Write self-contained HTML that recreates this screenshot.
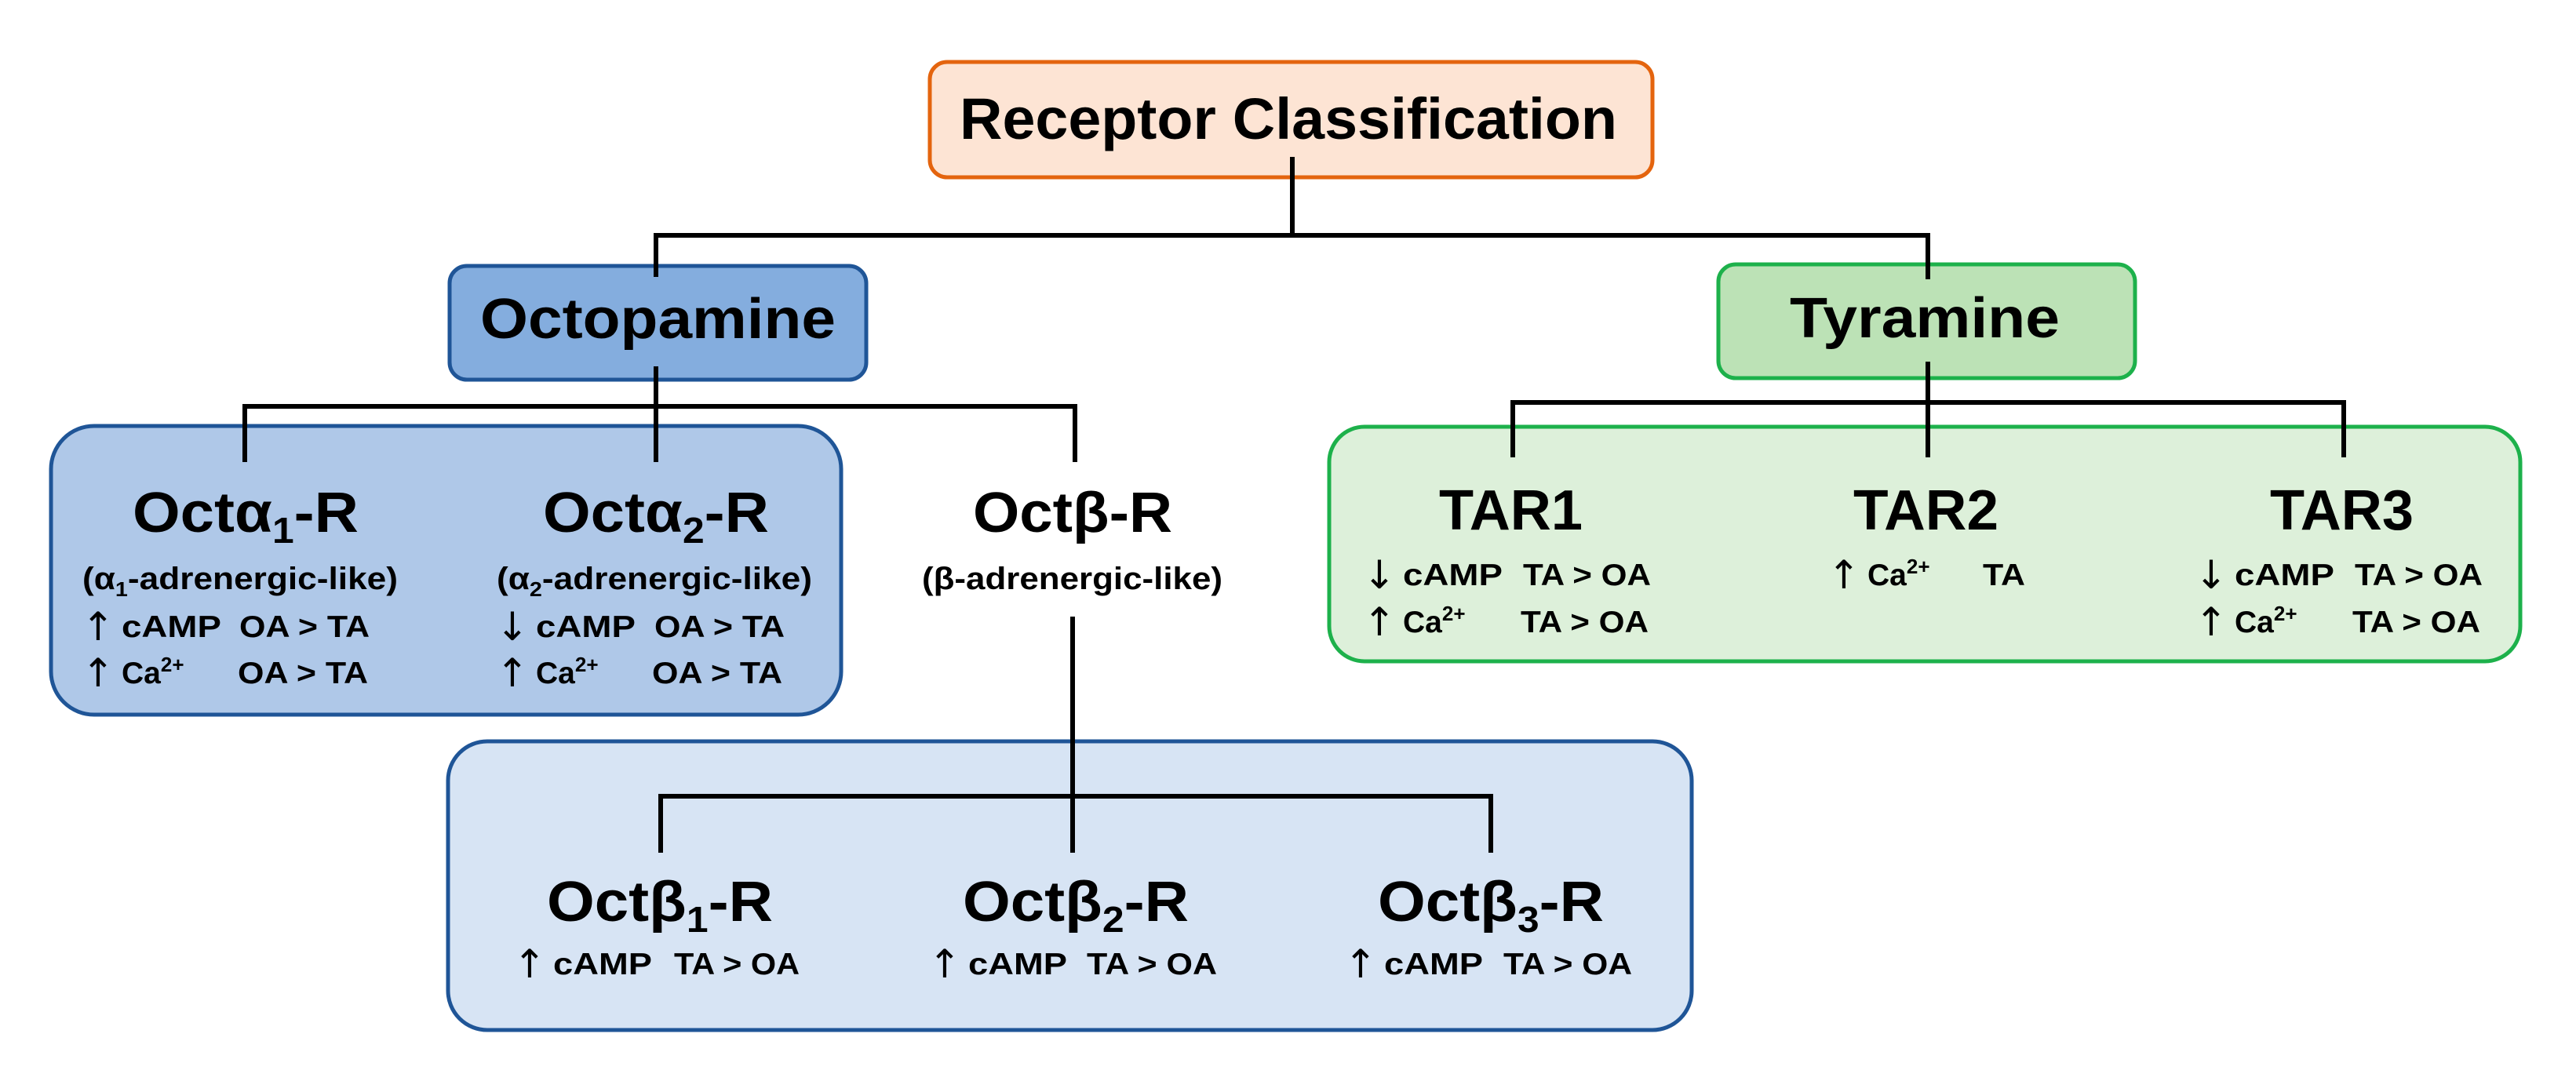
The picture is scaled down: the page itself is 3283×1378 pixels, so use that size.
<!DOCTYPE html>
<html><head><meta charset="utf-8"><style>
html,body{margin:0;padding:0;background:#fff;}
svg{display:block;}
text{font-family:"Liberation Sans","DejaVu Sans",sans-serif;font-weight:bold;fill:#000;}
text.ar{font-family:"DejaVu Sans","Liberation Sans",sans-serif;font-weight:normal;}
</style></head><body>
<svg width="3283" height="1378" viewBox="0 0 3283 1378" xmlns="http://www.w3.org/2000/svg">
<!-- boxes -->
<rect x="1185" y="79" width="921" height="147" rx="22" fill="#FDE4D4" stroke="#E4640E" stroke-width="5"/>
<rect x="573" y="339" width="531" height="145" rx="22" fill="#84ADDE" stroke="#1F5597" stroke-width="5"/>
<rect x="2190" y="337" width="531" height="145" rx="22" fill="#BCE2B6" stroke="#1DB14B" stroke-width="5"/>
<rect x="65" y="543" width="1007" height="368" rx="55" fill="#AFC8E8" stroke="#1F5597" stroke-width="5"/>
<rect x="1694" y="544" width="1518" height="299" rx="45" fill="#DDF0DA" stroke="#1DB14B" stroke-width="5"/>
<rect x="571" y="945" width="1585" height="368" rx="50" fill="#D7E4F4" stroke="#1F5597" stroke-width="5"/>
<!-- connectors -->
<g stroke="#000" stroke-width="6" fill="none">
<path d="M1647 200 V300"/>
<path d="M836 353 V300 H2457 V356"/>
<path d="M836 467 V589"/>
<path d="M312 589 V518 H1370 V589"/>
<path d="M2457 461 V583"/>
<path d="M1928 583 V513 H2987 V583"/>
<path d="M1367 786 V1087"/>
<path d="M842 1087 V1015 H1900 V1087"/>
</g>
<!-- titles -->
<text x="1223" y="177" font-size="74" textLength="838" lengthAdjust="spacingAndGlyphs">Receptor Classification</text>
<text x="612" y="431" font-size="72" textLength="453" lengthAdjust="spacingAndGlyphs">Octopamine</text>
<text x="2281" y="430" font-size="72" textLength="344" lengthAdjust="spacingAndGlyphs">Tyramine</text>

<!-- Oct alpha 1 -->
<text x="169" y="678" font-size="72" textLength="288" lengthAdjust="spacingAndGlyphs">Octα<tspan font-size="46" dy="14">1</tspan><tspan dy="-14">-R</tspan></text>
<text x="105" y="751" font-size="40" textLength="402" lengthAdjust="spacingAndGlyphs">(α<tspan font-size="26" dy="9">1</tspan><tspan dy="-9">-adrenergic-like)</tspan></text>
<text class="ar" x="104" y="816" font-size="50">↑</text>
<text x="155" y="812" font-size="39" textLength="127" lengthAdjust="spacingAndGlyphs">cAMP</text>
<text x="305" y="812" font-size="39" textLength="166" lengthAdjust="spacingAndGlyphs">OA &gt; TA</text>
<text class="ar" x="104" y="875" font-size="50">↑</text>
<text x="155" y="871" font-size="39">Ca<tspan font-size="26" dy="-15">2+</tspan></text>
<text x="303" y="871" font-size="39" textLength="166" lengthAdjust="spacingAndGlyphs">OA &gt; TA</text>

<!-- Oct alpha 2 -->
<text x="692" y="678" font-size="72" textLength="288" lengthAdjust="spacingAndGlyphs">Octα<tspan font-size="46" dy="14">2</tspan><tspan dy="-14">-R</tspan></text>
<text x="633" y="751" font-size="40" textLength="402" lengthAdjust="spacingAndGlyphs">(α<tspan font-size="26" dy="9">2</tspan><tspan dy="-9">-adrenergic-like)</tspan></text>
<text class="ar" x="632" y="816" font-size="50">↓</text>
<text x="683" y="812" font-size="39" textLength="127" lengthAdjust="spacingAndGlyphs">cAMP</text>
<text x="834" y="812" font-size="39" textLength="166" lengthAdjust="spacingAndGlyphs">OA &gt; TA</text>
<text class="ar" x="632" y="875" font-size="50">↑</text>
<text x="683" y="871" font-size="39">Ca<tspan font-size="26" dy="-15">2+</tspan></text>
<text x="831" y="871" font-size="39" textLength="166" lengthAdjust="spacingAndGlyphs">OA &gt; TA</text>

<!-- Oct beta -->
<text x="1240" y="678" font-size="72" textLength="254" lengthAdjust="spacingAndGlyphs">Octβ-R</text>
<text x="1175" y="751" font-size="40" textLength="383" lengthAdjust="spacingAndGlyphs">(β-adrenergic-like)</text>

<!-- beta subtypes -->
<text x="697" y="1174" font-size="72" textLength="288" lengthAdjust="spacingAndGlyphs">Octβ<tspan font-size="46" dy="14">1</tspan><tspan dy="-14">-R</tspan></text>
<text class="ar" x="654" y="1246" font-size="50">↑</text>
<text x="705" y="1242" font-size="39" textLength="126" lengthAdjust="spacingAndGlyphs">cAMP</text>
<text x="859" y="1242" font-size="39" textLength="160" lengthAdjust="spacingAndGlyphs">TA &gt; OA</text>

<text x="1227" y="1174" font-size="72" textLength="288" lengthAdjust="spacingAndGlyphs">Octβ<tspan font-size="46" dy="14">2</tspan><tspan dy="-14">-R</tspan></text>
<text class="ar" x="1183" y="1246" font-size="50">↑</text>
<text x="1234" y="1242" font-size="39" textLength="126" lengthAdjust="spacingAndGlyphs">cAMP</text>
<text x="1385" y="1242" font-size="39" textLength="166" lengthAdjust="spacingAndGlyphs">TA &gt; OA</text>

<text x="1756" y="1174" font-size="72" textLength="288" lengthAdjust="spacingAndGlyphs">Octβ<tspan font-size="46" dy="14">3</tspan><tspan dy="-14">-R</tspan></text>
<text class="ar" x="1713" y="1246" font-size="50">↑</text>
<text x="1764" y="1242" font-size="39" textLength="126" lengthAdjust="spacingAndGlyphs">cAMP</text>
<text x="1916" y="1242" font-size="39" textLength="164" lengthAdjust="spacingAndGlyphs">TA &gt; OA</text>

<!-- TAR -->
<text x="1834" y="675" font-size="72" textLength="183" lengthAdjust="spacingAndGlyphs">TAR1</text>
<text class="ar" x="1737" y="750" font-size="50">↓</text>
<text x="1788" y="746" font-size="39" textLength="127" lengthAdjust="spacingAndGlyphs">cAMP</text>
<text x="1941" y="746" font-size="39" textLength="163" lengthAdjust="spacingAndGlyphs">TA &gt; OA</text>
<text class="ar" x="1737" y="810" font-size="50">↑</text>
<text x="1788" y="806" font-size="39">Ca<tspan font-size="26" dy="-15">2+</tspan></text>
<text x="1938" y="806" font-size="39" textLength="163" lengthAdjust="spacingAndGlyphs">TA &gt; OA</text>

<text x="2362" y="675" font-size="72" textLength="185" lengthAdjust="spacingAndGlyphs">TAR2</text>
<text class="ar" x="2329" y="750" font-size="50">↑</text>
<text x="2380" y="746" font-size="39">Ca<tspan font-size="26" dy="-15">2+</tspan></text>
<text x="2527" y="746" font-size="39" textLength="54" lengthAdjust="spacingAndGlyphs">TA</text>

<text x="2893" y="675" font-size="72" textLength="183" lengthAdjust="spacingAndGlyphs">TAR3</text>
<text class="ar" x="2797" y="750" font-size="50">↓</text>
<text x="2848" y="746" font-size="39" textLength="127" lengthAdjust="spacingAndGlyphs">cAMP</text>
<text x="3001" y="746" font-size="39" textLength="163" lengthAdjust="spacingAndGlyphs">TA &gt; OA</text>
<text class="ar" x="2797" y="810" font-size="50">↑</text>
<text x="2848" y="806" font-size="39">Ca<tspan font-size="26" dy="-15">2+</tspan></text>
<text x="2998" y="806" font-size="39" textLength="163" lengthAdjust="spacingAndGlyphs">TA &gt; OA</text>
</svg>
</body></html>
